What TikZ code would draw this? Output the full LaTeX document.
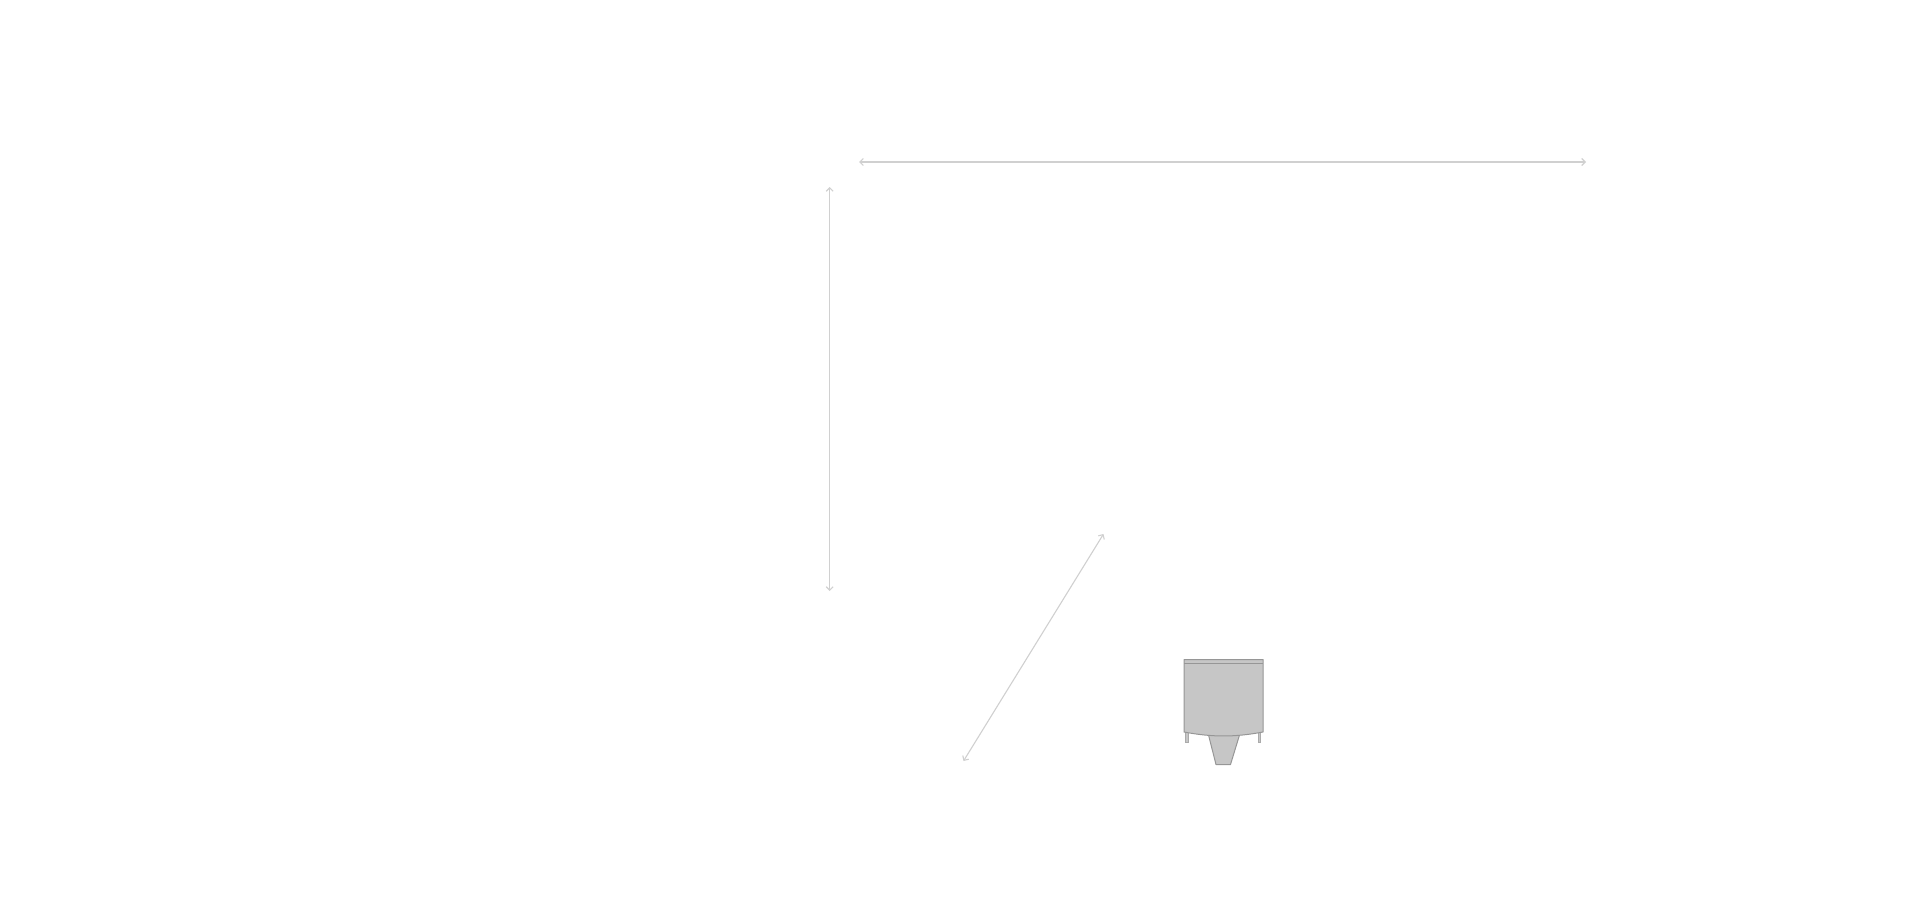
\documentclass[tikz,border=0pt]{standalone}
\usetikzlibrary{arrows.meta}
\definecolor{dimline}{RGB}{208,208,208}
\definecolor{bodyfill}{RGB}{198,198,198}
\definecolor{bodyline}{RGB}{150,150,150}
\tikzset{
  dimarrow/.style={draw=dimline, line width=1.1pt, {Straight Barb[length=3.5pt, width=7pt]}-{Straight Barb[length=3.5pt, width=7pt]}},
  bodypart/.style={draw=bodyline, fill=bodyfill, line width=1pt, line join=round},
  legpart/.style={draw=bodyline!80, fill=bodyfill, line width=.8pt}
}
\begin{document}
\begin{tikzpicture}[x=1pt, y=-1pt]
            \useasboundingbox (0, 0) rectangle (1920, 907);
            \coordinate (widthleft) at (859, 162);
            \coordinate (widthright) at (1586, 162);
            \coordinate (heighttop) at (829.7, 187);
            \coordinate (heightbottom) at (829.7, 591);
            \coordinate (depthtop) at (1103.5, 534);
            \coordinate (depthbottom) at (963.5, 761);
            \draw[dimarrow] (widthleft) -- (widthright);
            \draw[dimarrow] (heighttop) -- (heightbottom);
            \draw[dimarrow] (depthtop) -- (depthbottom);
            % legs and funnel go under the body
            \draw[legpart] (1185.5, 732) rectangle (1188, 742);
            \draw[legpart] (1258, 732) rectangle (1260.5, 742);
            \draw[bodypart] (1208.5, 735) -- (1216, 764.5) -- (1230.5, 764.5) -- (1239.5, 735) -- cycle;
            \draw[bodypart] (1184, 659.5) -- (1263, 659.5) -- (1263, 732) .. controls (1235, 737.3) and (1212, 737.3) .. (1184, 732) -- cycle;
            \draw[bodypart] (1184, 663.5) -- (1263, 663.5);
        \end{tikzpicture}
\end{document}
